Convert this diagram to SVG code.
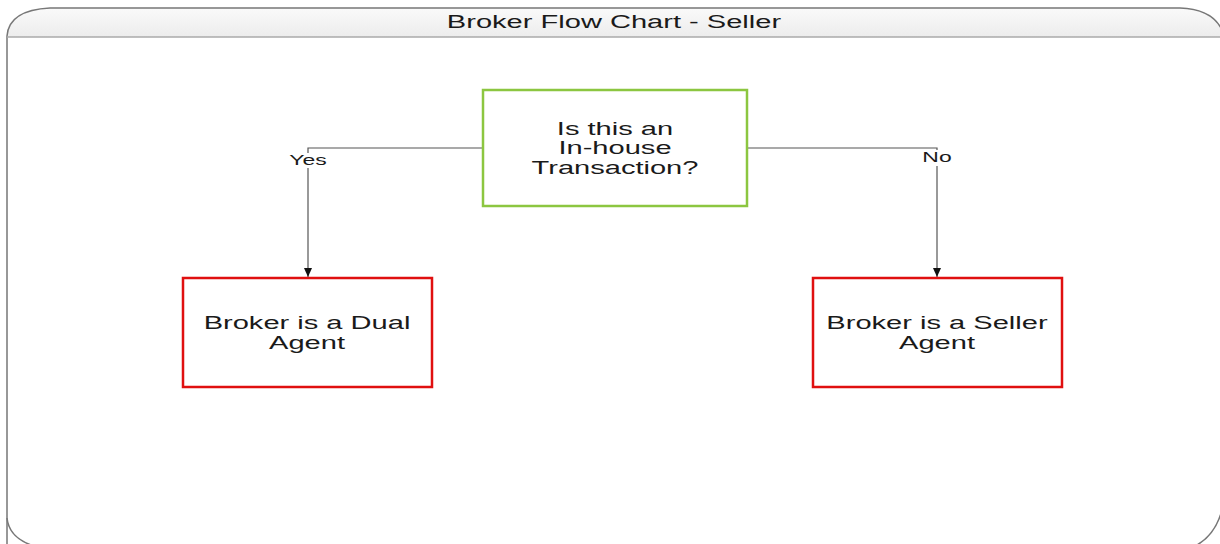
<svg xmlns="http://www.w3.org/2000/svg" width="1220" height="544" viewBox="0 0 1220 544">
<style>
text{font-family:"Liberation Sans",Arial,sans-serif;fill:#1a1a1a;text-anchor:middle}
.node{font-size:19px}
.lbl{font-size:15px}
.conn{fill:none;stroke:#555;stroke-width:1.2}
.red{fill:#fff;stroke:#e01010;stroke-width:2.5}
.green{fill:#fff;stroke:#8cc640;stroke-width:2.5}
</style>
<defs>
<linearGradient id="hdr" x1="0" y1="0" x2="0" y2="1"><stop offset="0" stop-color="#fafafa"/><stop offset="1" stop-color="#ececec"/></linearGradient>
<marker id="arr" markerWidth="10" markerHeight="10" refX="9" refY="5" orient="auto" markerUnits="userSpaceOnUse"><path d="M0,1 L9,5 L0,9 Z" fill="#111"/></marker>
</defs>
<rect width="1220" height="544" fill="#fff"/>
<g id="frame">
<path d="M7,37 L7,32 Q9,10 50,8 L1180,8 Q1212,9 1222,30 L1222,37 Z" fill="url(#hdr)"/>
<path d="M7,560 L7,36 Q9,10 50,8 L1180,8 Q1212,9 1222,30" fill="none" stroke="#777" stroke-width="1.5"/>
<path d="M7,518 Q9,538 34,546" fill="none" stroke="#777" stroke-width="1.5"/>
<path d="M1222,510 Q1215,536 1195,546" fill="none" stroke="#777" stroke-width="1.5"/>
<line x1="7" y1="37" x2="1222" y2="37" stroke="#aaa" stroke-width="1.5"/>
<text transform="translate(614,28) scale(1.53,1)" style="font-size:19px">Broker Flow Chart - Seller</text>
</g>
<g id="connectors">
<path class="conn" d="M483,148 L308,148 L308,153"/>
<path class="conn" d="M308,168 L308,277" marker-end="url(#arr)"/>
<text class="lbl" transform="translate(308,165) scale(1.53,1)">Yes</text>
<path class="conn" d="M747,148 L937,148 L937,150"/>
<path class="conn" d="M937,166 L937,277" marker-end="url(#arr)"/>
<text class="lbl" transform="translate(937,162) scale(1.53,1)">No</text>
</g>
<g id="q">
<rect class="green" x="483" y="90" width="264" height="116"/>
<text class="node" transform="translate(615,135) scale(1.53,1)">Is this an</text>
<text class="node" transform="translate(615,154) scale(1.53,1)">In-house</text>
<text class="node" transform="translate(615,174) scale(1.53,1)">Transaction?</text>
</g>
<g id="dual">
<rect class="red" x="183" y="278" width="249" height="109"/>
<text class="node" transform="translate(307,329) scale(1.53,1)">Broker is a Dual</text>
<text class="node" transform="translate(307,349) scale(1.53,1)">Agent</text>
</g>
<g id="seller">
<rect class="red" x="813" y="278" width="249" height="109"/>
<text class="node" transform="translate(937,329) scale(1.53,1)">Broker is a Seller</text>
<text class="node" transform="translate(937,349) scale(1.53,1)">Agent</text>
</g>
</svg>
